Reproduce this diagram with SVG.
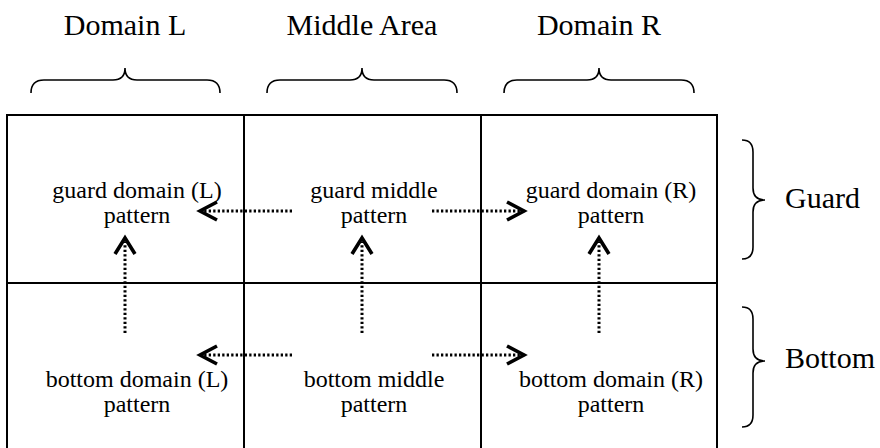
<svg xmlns="http://www.w3.org/2000/svg" width="880" height="448" viewBox="0 0 880 448">
<style>
.grid{fill:none;stroke:#000;stroke-width:2}
.brace{fill:none;stroke:#000;stroke-width:1.6}
.hdr{font-family:"Liberation Serif","Times New Roman",serif;font-size:30px;fill:#000}
.cell{font-family:"Liberation Serif","Times New Roman",serif;font-size:24px;fill:#000;text-anchor:middle}
.dot{fill:none;stroke:#000;stroke-width:3;stroke-dasharray:2.3 2.2}
.head{fill:none;stroke:#000;stroke-width:3.6;stroke-linecap:butt;stroke-linejoin:miter}
</style>
<rect width="880" height="448" fill="#fff"/>
<g id="headers">
<text class="hdr" x="125" y="35" text-anchor="middle">Domain L</text>
<text class="hdr" x="362" y="35" text-anchor="middle">Middle Area</text>
<text class="hdr" x="599" y="35" text-anchor="middle">Domain R</text>
<text class="hdr" x="785" y="208">Guard</text>
<text class="hdr" x="785" y="368">Bottom</text>
</g>
<g id="braces">
<path class="brace" d="M31,93 Q31,80 44,80 L113,80 Q125,80 125,68 Q125,80 137,80 L207,80 Q220,80 220,93"/>
<path class="brace" d="M267,93 Q267,80 280,80 L350,80 Q362,80 362,68 Q362,80 374,80 L444,80 Q457,80 457,93"/>
<path class="brace" d="M504,93 Q504,80 517,80 L587,80 Q599,80 599,68 Q599,80 611,80 L681,80 Q694,80 694,93"/>
<path class="brace" d="M742,140 Q753,140 753,152 L753,188 Q753,200 765,200 Q753,200 753,212 L753,247 Q753,259 742,259"/>
<path class="brace" d="M742,307 Q753,307 753,319 L753,349 Q753,361 765,361 Q753,361 753,373 L753,415 Q753,427 742,427"/>
</g>
<g id="grid">
<rect class="grid" x="7" y="115" width="710" height="345"/>
<line class="grid" x1="244" y1="115" x2="244" y2="460"/>
<line class="grid" x1="481" y1="115" x2="481" y2="460"/>
<line class="grid" x1="7" y1="283" x2="717" y2="283"/>
</g>
<g id="guard-domain-L"><text class="cell" x="137" y="198">guard domain (L)</text><text class="cell" x="137" y="223">pattern</text></g>
<g id="guard-middle"><text class="cell" x="374" y="198">guard middle</text><text class="cell" x="374" y="223">pattern</text></g>
<g id="guard-domain-R"><text class="cell" x="611" y="198">guard domain (R)</text><text class="cell" x="611" y="223">pattern</text></g>
<g id="bottom-domain-L"><text class="cell" x="137" y="387">bottom domain (L)</text><text class="cell" x="137" y="412">pattern</text></g>
<g id="bottom-middle"><text class="cell" x="374" y="387">bottom middle</text><text class="cell" x="374" y="412">pattern</text></g>
<g id="bottom-domain-R"><text class="cell" x="611" y="387">bottom domain (R)</text><text class="cell" x="611" y="412">pattern</text></g>
<g id="connectors">
<line class="dot" x1="292" y1="211" x2="203" y2="211"/>
<polyline class="head" points="217,202 200,211 217,220"/>
<line class="dot" x1="432" y1="211" x2="521" y2="211"/>
<polyline class="head" points="507,202 524,211 507,220"/>
<line class="dot" x1="292" y1="355" x2="203" y2="355"/>
<polyline class="head" points="217,346 200,355 217,364"/>
<line class="dot" x1="432" y1="355" x2="521" y2="355"/>
<polyline class="head" points="507,346 524,355 507,364"/>
<line class="dot" x1="125" y1="333" x2="125" y2="242"/>
<polyline class="head" points="115,254 125,238 135,254"/>
<line class="dot" x1="362" y1="333" x2="362" y2="242"/>
<polyline class="head" points="352,254 362,238 372,254"/>
<line class="dot" x1="599" y1="333" x2="599" y2="242"/>
<polyline class="head" points="589,254 599,238 609,254"/>
</g>
</svg>
